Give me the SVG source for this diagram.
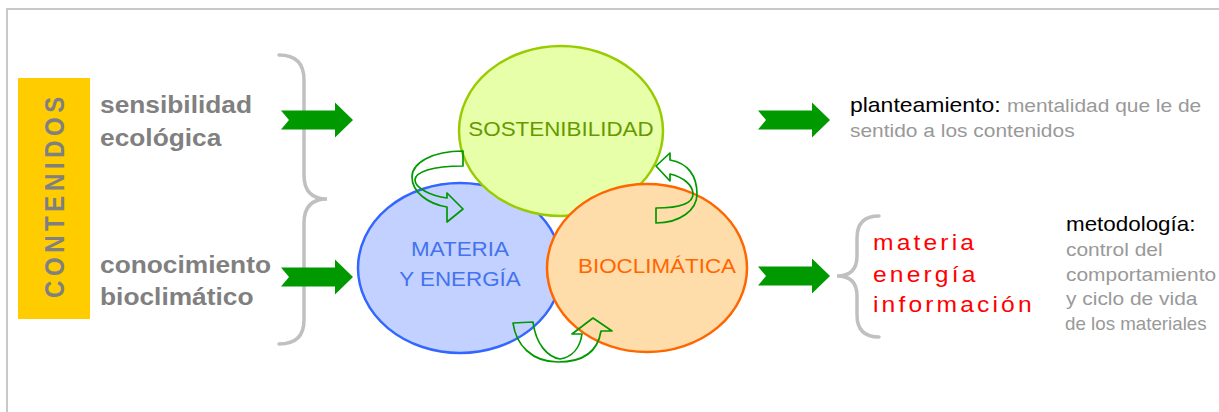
<svg xmlns="http://www.w3.org/2000/svg" width="1219" height="412" viewBox="0 0 1219 412">
<style>
text{font-family:"Liberation Sans",Arial,sans-serif}
.lbl{font-size:23.5px;font-weight:bold;fill:#808080}
.circ{font-size:20px;text-anchor:middle}
.brace{fill:none;stroke:#C0C0C0;stroke-width:3.5;stroke-linecap:round}
.big{fill:#009900}
.curl{fill:none;stroke:#009900;stroke-width:1.7;stroke-linejoin:round}
.red{font-size:22px;fill:#FF0000;letter-spacing:2.8px}
.gray{fill:#999999}
.blk{fill:#000000}
</style>
<defs>
<path id="bigArrow" d="M0,-9.5 L54,-9.5 L54,-17.5 L72,0 L54,17.5 L54,9.5 L0,9.5 L8,0 Z"/>
</defs>
<rect x="7" y="9" width="1240" height="430" fill="#FFFFFF" stroke="#C8C8C8" stroke-width="2"/>

<g id="contenidos">
<rect x="18" y="78" width="72" height="241" fill="#FFCC00"/>
<text transform="translate(64,298) scale(1.12,1) rotate(-90)" font-size="24" font-weight="bold" fill="#808080" letter-spacing="4.6">CONTENIDOS</text>
</g>

<g id="sensibilidad">
<text class="lbl" transform="translate(100,113) scale(1.12,1)">sensibilidad</text>
<text class="lbl" transform="translate(100,146) scale(1.12,1)">ecológica</text>
</g>
<g id="conocimiento">
<text class="lbl" transform="translate(100,273) scale(1.12,1)">conocimiento</text>
<text class="lbl" transform="translate(100,305) scale(1.12,1)">bioclimático</text>
</g>

<g id="brace-left">
<path class="brace" d="M279,55 Q304,55 304,80 L304,175 Q304,199 327,199 Q304,199 304,223 L304,320 Q304,344 279,344"/>
</g>

<g id="materia">
<ellipse cx="460" cy="268" rx="102" ry="85" fill="#C2D1FF" stroke="#3366FF" stroke-width="2.5"/>
<text class="circ" fill="#4472F0" transform="translate(460,256) scale(1.12,1)">MATERIA</text>
<text class="circ" fill="#4472F0" transform="translate(460,286) scale(1.12,1)">Y ENERGÍA</text>
</g>
<g id="sostenibilidad">
<ellipse cx="561" cy="131" rx="102" ry="85" fill="#E6FFA8" stroke="#99CC00" stroke-width="2.5"/>
<text class="circ" fill="#669900" transform="translate(561,136) scale(1.12,1)">SOSTENIBILIDAD</text>
</g>
<g id="bioclimatica">
<ellipse cx="647" cy="268" rx="100" ry="84" fill="#FFDDAA" stroke="#FF6600" stroke-width="2.5"/>
<text class="circ" fill="#FF6600" transform="translate(657,273) scale(1.12,1)">BIOCLIMÁTICA</text>
</g>

<g id="connectors">
<use href="#bigArrow" class="big" x="281" y="120"/>
<use href="#bigArrow" class="big" x="281" y="277"/>
<use href="#bigArrow" class="big" x="758" y="120"/>
<use href="#bigArrow" class="big" x="758" y="276"/>
<path class="curl" d="M463,151 C432,151 412,163 412,177 C412,192 428,204 447,207 L447,222 L463,209 L447,193 L447,198 C431,196 415,188 415,180 C415,172 432,166 463,166 Z"/>
<path class="curl" d="M513,323 L533,322 C536,345 548,357 560,359 C572,357 580,348 582,334 L572,334 L593,318 L612,331 L601,331 C598,350 585,362 558,362 C532,362 516,345 513,323 Z"/>
<path class="curl" d="M656,223 C680,223 697,210 697,194 C697,176 688,163 670,160 L670,153 L656,166 L670,181 L670,174 C683,177 693,185 693,194 C693,203 680,208 656,208 Z"/>
</g>

<g id="planteamiento">
<text font-size="20.5" transform="translate(850,112) scale(1.12,1)"><tspan class="blk">planteamiento: </tspan><tspan class="gray" font-size="18.7">mentalidad que le de</tspan></text>
<text class="gray" font-size="18.7" transform="translate(850,137) scale(1.12,1)">sentido a los contenidos</text>
</g>

<g id="brace-right">
<path class="brace" d="M879,216 Q857,216 857,238 L857,256 Q857,276 837,276 Q857,276 857,296 L857,315 Q857,337 879,337"/>
</g>

<g id="elementos">
<text class="red" transform="translate(873,250) scale(1.12,1)">materia</text>
<text class="red" transform="translate(873,282) scale(1.12,1)">energía</text>
<text class="red" transform="translate(873,312) scale(1.12,1)">información</text>
</g>

<g id="metodologia">
<text class="blk" font-size="20" transform="translate(1066,231) scale(1.12,1)">metodología:</text>
<text class="gray" font-size="18.7" transform="translate(1066,256) scale(1.12,1)">control del</text>
<text class="gray" font-size="18.7" transform="translate(1066,281) scale(1.12,1)">comportamiento</text>
<text class="gray" font-size="18.7" transform="translate(1066,305) scale(1.12,1)">y ciclo de vida</text>
<text class="gray" font-size="18.2" transform="translate(1065,330) scale(1.03,1)">de los materiales</text>
</g>
</svg>
